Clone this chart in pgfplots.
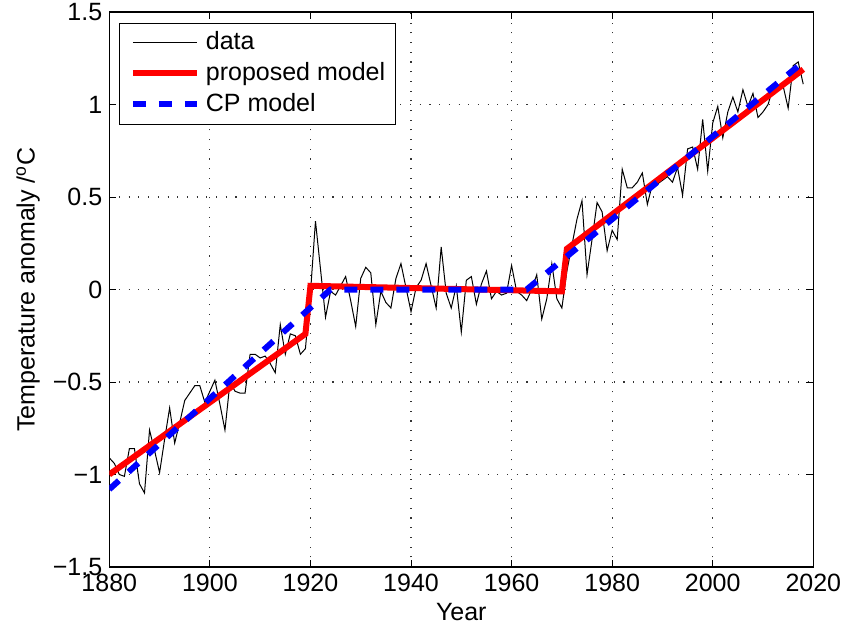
\documentclass[border=0pt]{standalone}
\usepackage{fontspec}
\setmainfont{Liberation Sans}
\usepackage{pgfplots}
\usepackage{pgfplotstable}
\pgfplotsset{compat=1.18}

% Annual temperature anomalies (degC)
\pgfplotstableread{
year anom
1880 -0.91
1881 -0.94
1882 -1.00
1883 -1.01
1884 -0.86
1885 -0.86
1886 -1.05
1887 -1.10
1888 -0.76
1889 -0.87
1890 -0.99
1891 -0.81
1892 -0.64
1893 -0.83
1894 -0.72
1895 -0.60
1896 -0.56
1897 -0.52
1898 -0.52
1899 -0.61
1900 -0.55
1901 -0.49
1902 -0.62
1903 -0.76
1904 -0.50
1905 -0.55
1906 -0.56
1907 -0.56
1908 -0.35
1909 -0.35
1910 -0.37
1911 -0.36
1912 -0.40
1913 -0.45
1914 -0.19
1915 -0.35
1916 -0.24
1917 -0.25
1918 -0.35
1919 -0.32
1920 -0.02
1921 0.37
1922 0.11
1923 -0.15
1924 -0.01
1925 -0.03
1926 0.02
1927 0.07
1928 -0.06
1929 -0.20
1930 0.06
1931 0.12
1932 0.09
1933 -0.19
1934 -0.01
1935 -0.07
1936 -0.10
1937 0.06
1938 0.14
1939 0.01
1940 -0.12
1941 0.01
1942 0.05
1943 0.14
1944 0.02
1945 -0.10
1946 0.23
1947 -0.02
1948 -0.10
1949 0.02
1950 -0.23
1951 0.05
1952 0.07
1953 -0.08
1954 0.03
1955 0.10
1956 -0.05
1957 -0.01
1958 -0.03
1959 -0.02
1960 0.13
1961 -0.01
1962 -0.03
1963 -0.06
1964 0.00
1965 0.08
1966 -0.16
1967 -0.05
1968 0.14
1969 -0.05
1970 -0.10
1971 0.10
1972 0.24
1973 0.38
1974 0.48
1975 0.08
1976 0.27
1977 0.47
1978 0.42
1979 0.21
1980 0.32
1981 0.27
1982 0.65
1983 0.55
1984 0.55
1985 0.58
1986 0.63
1987 0.46
1988 0.57
1989 0.57
1990 0.59
1991 0.61
1992 0.58
1993 0.66
1994 0.51
1995 0.76
1996 0.77
1997 0.65
1998 0.92
1999 0.64
2000 0.90
2001 0.99
2002 0.82
2003 0.96
2004 1.04
2005 0.96
2006 1.08
2007 0.99
2008 1.06
2009 0.93
2010 0.96
2011 1.00
2012 1.09
2013 1.09
2014 1.10
2015 0.98
2016 1.21
2017 1.23
2018 1.11
}\datatable

% Piecewise fit with jumps
\pgfplotstableread{
year fit
1880 -1.00
1919 -0.24
1920 0.02
1970 -0.01
1971 0.22
2018 1.19
}\proposedtable

% Continuous piecewise-linear fit
\pgfplotstableread{
year fit
1880 -1.08
1924 0.00
1963 0.00
2018 1.23
}\cptable

\begin{document}
\begin{tikzpicture}[font=\fontsize{12.5}{15}\selectfont]
\begin{axis}[
  scale only axis,
  width=352pt, height=277.5pt,
  xmin=1880, xmax=2020, ymin=-1.5, ymax=1.5,
  xtick={1880,1900,1920,1940,1960,1980,2000,2020},
  xticklabels={1880,1900,1920,1940,1960,1980,2000,2020},
  ytick={-1.5,-1,-0.5,0,0.5,1,1.5},
  yticklabels={−1.5,−1,−0.5,0,0.5,1,1.5},
  tick align=inside,
  xtick pos=both, ytick pos=both,
  xticklabel pos=lower, yticklabel pos=left,
  major tick length=3.5pt,
  tick style={black, line width=0.5pt},
  axis line style={black, line width=0.6pt},
  grid=major,
  major grid style={black!80, line width=0.55pt, dash pattern=on 0.55pt off 4.3pt},
  every axis x label/.style={at={(axis description cs:0.5,0)}, yshift=-22.5pt, anchor=center},
  every axis y label/.style={at={(axis description cs:0,0.5)}, xshift=-40.6pt, rotate=90, anchor=center},
  xlabel={Year},
  ylabel={Temperature anomaly /\textsuperscript{o}C},
  legend cell align=left,
  legend style={at={(axis description cs:0,1)}, xshift=5pt, yshift=-5.3pt,
    anchor=north west, draw=black, line width=0.6pt, fill=white,
    inner xsep=5pt, inner ysep=4pt, row sep=4pt, column sep=3pt,
    nodes={inner sep=0pt, text height=9pt, text depth=2.5pt, anchor=base west, xshift=1pt}},
  legend image code/.code={\draw[#1] (2.5pt,0.35em) -- (34.5pt,0.35em);},
]
\addplot[black, line width=0.5pt] table[x=year, y=anom] {\datatable};
\addlegendentry{data}
\addplot[red, line width=3pt] table[x=year, y=fit] {\proposedtable};
\addlegendentry{proposed model}
\addplot[blue, line width=3pt, dash pattern=on 6.5pt off 6.5pt] table[x=year, y=fit] {\cptable};
\addlegendentry{CP model}
\end{axis}
\pgfresetboundingbox
\path ([shift={(-54.65pt,-32.5pt)}]current axis.south west) rectangle ([shift={(15.35pt,6pt)}]current axis.north east);
\end{tikzpicture}
\end{document}
